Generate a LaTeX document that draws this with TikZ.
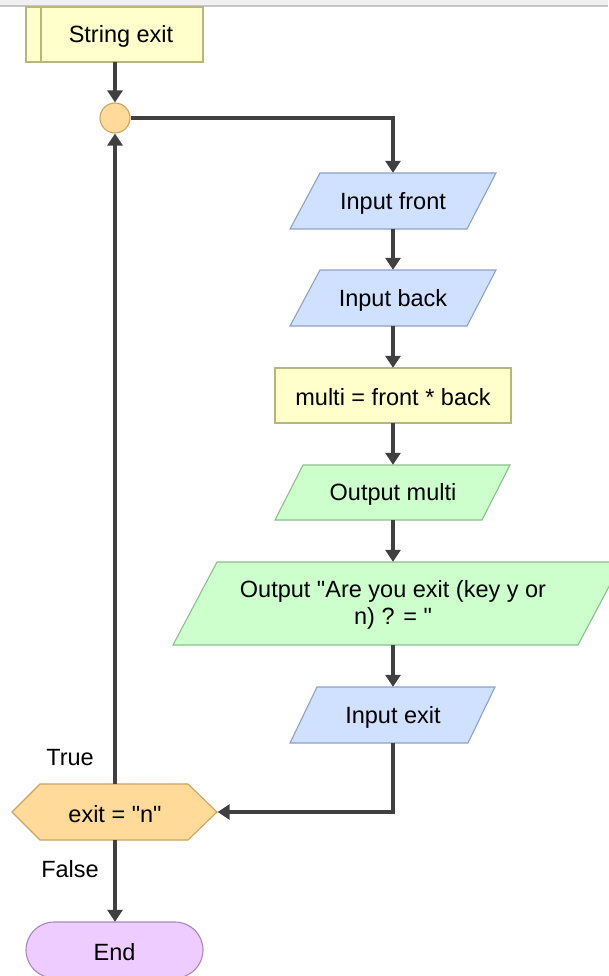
\documentclass[tikz,border=0pt]{standalone}
\usepackage{fontspec}
\setmainfont{Liberation Sans}[Ligatures=TeXOff]
\usetikzlibrary{arrows.meta,calc}
\definecolor{yfill}{HTML}{FFFFCC}
\definecolor{ydraw}{HTML}{B8B67C}
\definecolor{bfill}{HTML}{D0E0FF}
\definecolor{bdraw}{HTML}{8DA2C8}
\definecolor{gfill}{HTML}{CCFFCC}
\definecolor{gdraw}{HTML}{8CBF8C}
\definecolor{ofill}{HTML}{FFDA99}
\definecolor{odraw}{HTML}{C9A466}
\definecolor{pfill}{HTML}{EECCFF}
\definecolor{pdraw}{HTML}{A887C0}
\definecolor{arr}{HTML}{404040}
\tikzset{
  x=1pt,y=1pt,
  txt/.style={font=\fontsize{23.5}{27}\selectfont, align=center, inner sep=0pt},
  shp/.style={line width=1.1pt},
  yshape/.style={shp, fill=yfill, draw=ydraw},
  bshape/.style={shp, fill=bfill, draw=bdraw},
  gshape/.style={shp, fill=gfill, draw=gdraw},
  oshape/.style={shp, fill=ofill, draw=odraw},
  pshape/.style={shp, fill=pfill, draw=pdraw},
  anchorbox/.style={rectangle, inner sep=0pt, minimum width=#1},
  conn/.style={draw=arr, line width=4pt, -{Triangle[width=15pt,length=12pt]}},
  lbl/.style={font=\fontsize{23.5}{27}\selectfont, inner sep=0pt},
}
\begin{document}
\begin{tikzpicture}
\useasboundingbox (0,0) rectangle (608,-976);
\fill[white] (0,0) rectangle (608,-976);
% top band
\fill[gray!12] (0,0) rectangle (608,-5);
\fill[gray!45] (0,-5) rectangle (608,-7);

% String exit
\draw[yshape] (26,-7) rectangle (203,-62);
\draw[shp, draw=ydraw] (41,-7) -- (41,-62);
\node[anchorbox=177, minimum height=55] (se) at (115,-34.5) {};
\node[txt] at (121,-36.5) {String exit};

% connector circle
\node[circle, oshape, minimum size=30, inner sep=0pt] (c) at (115,-118) {};

% Input front
\draw[bshape] (320,-173) -- (496,-173) -- (467,-229) -- (290,-229) -- cycle;
\node[anchorbox=176, minimum height=56] (f) at (393,-201) {};
\node[txt] at (393,-203) {Input front};

% Input back
\draw[bshape] (320,-270) -- (496,-270) -- (467,-326) -- (290,-326) -- cycle;
\node[anchorbox=176, minimum height=56] (b) at (393,-298) {};
\node[txt] at (393,-300) {Input back};

% multi
\draw[yshape] (275,-368) rectangle (511,-423);
\node[anchorbox=236, minimum height=55] (m) at (393,-395.5) {};
\node[txt] at (393,-397.5) {multi = front * back};

% Output multi
\draw[gshape] (303,-465) -- (510,-465) -- (482,-520) -- (275,-520) -- cycle;
\node[anchorbox=207, minimum height=55] (om) at (393,-492.5) {};
\node[txt] at (393,-494.5) {Output multi};

% Output Are you exit
\draw[gshape] (217,-562) -- (622,-562) -- (578,-645) -- (173,-645) -- cycle;
\node[anchorbox=300, minimum height=83] (oa) at (393,-603.5) {};
\node[txt] at (393,-605) {Output "Are you exit (key y or\\ n) ? = "};

% Input exit
\draw[bshape] (317,-687) -- (495,-687) -- (468,-743) -- (290,-743) -- cycle;
\node[anchorbox=178, minimum height=56] (ie) at (393,-715) {};
\node[txt] at (393,-717) {Input exit};

% decision hexagon
\draw[oshape] (12,-812) -- (40,-784) -- (188,-784) -- (217,-812) -- (188,-840) -- (40,-840) -- cycle;
\node[anchorbox=205, minimum height=56] (h) at (115,-812) {};
\node[txt] at (115,-814) {exit = "n"};

% End
\draw[pshape, rounded corners=28] (26,-922) rectangle (203,-978);
\node[anchorbox=177, minimum height=56] (e) at (115,-950) {};
\node[txt] at (114.5,-952) {End};

% labels
\node[lbl] (lt) at (70,-758) {True};
\node[lbl] (lf) at (70,-869) {False};

% connectors
\draw[conn] (se.south) -- (c.north);
\draw[conn] (c.east) -| (f.north);
\draw[conn] (f.south) -- (b.north);
\draw[conn] (b.south) -- (m.north);
\draw[conn] (m.south) -- (om.north);
\draw[conn] (om.south) -- (oa.north);
\draw[conn] (oa.south) -- (ie.north);
\draw[conn] (ie.south) |- (h.east);
\draw[conn] (h.north) -- (c.south);
\draw[conn] (h.south) -- (e.north);
\end{tikzpicture}
\end{document}
